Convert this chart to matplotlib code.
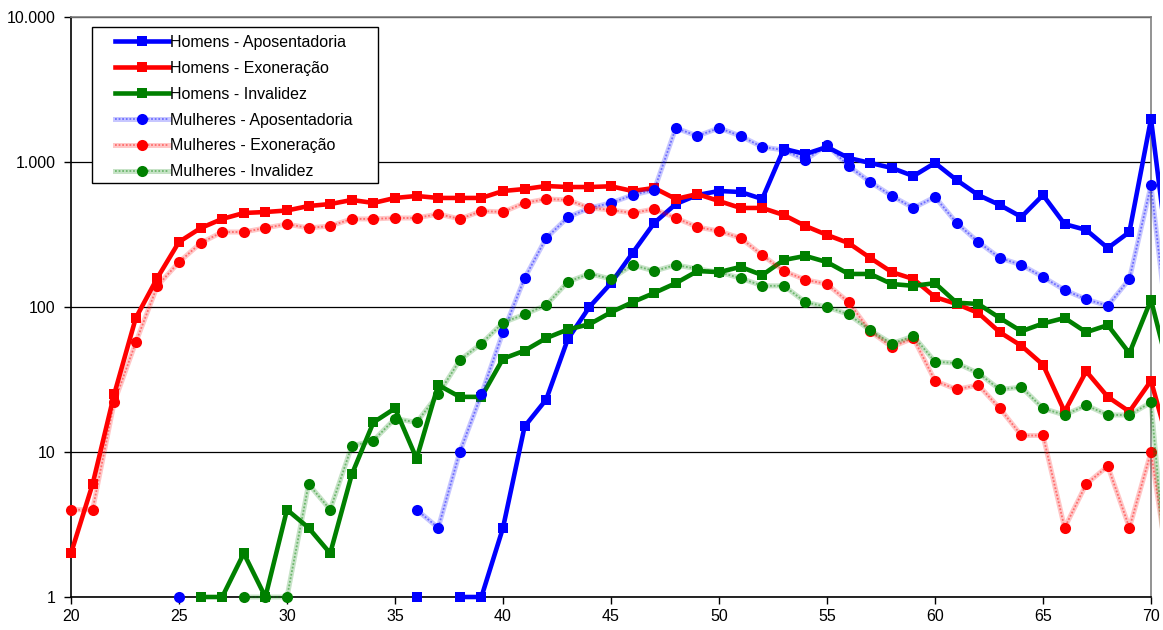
import numpy as np
import matplotlib
matplotlib.use("Agg")
import matplotlib.pyplot as plt
from matplotlib.patches import Rectangle
from matplotlib.ticker import FixedLocator, FuncFormatter, NullLocator
from matplotlib.transforms import Bbox, TransformedBbox

plt.rcParams["font.family"] = ["Liberation Sans", "DejaVu Sans"]

nan = np.nan
ages = list(range(20, 72))

homens_apos = [nan] * 16 + [1, nan, 1, 1, 3, 15, 23, 60, 100, 146, 236, 380, 513, 592, 631, 621,
               556, 1233, 1135, 1269, 1066, 985, 910, 800, 985, 751, 592, 505, 418, 592, 373,
               340, 255, 329, 1980, 126]
homens_exon = [2, 6, 25, 84, 159, 281, 350, 405, 445, 452, 463, 497, 513, 547, 522, 565, 583,
               565, 565, 565, 631, 651, 683, 672, 672, 680, 631, 662, 556, 601, 538, 482, 482,
               431, 362, 314, 276, 218, 174, 156, 117, 105, 91, 67, 54, 40, 19, 36, 24, 19, 31, 9]
homens_inv = [nan] * 6 + [1, 1, 2, 1, 4, 3, 2, 7, 16, 20, 9, 29, 24, 24, 44, 50, 61, 70, 76, 92,
              108, 125, 146, 177, 174, 189, 166, 211, 225, 204, 169, 169, 144, 140, 146, 107,
              105, 84, 68, 77, 84, 67, 75, 48, 112, 29]
mulheres_apos = [nan] * 5 + [1] + [nan] * 10 + [4, 3, 10, 25, 67, 158, 299, 415, 482, 522, 592,
                 641, 1716, 1511, 1716, 1511, 1269, 1210, 1032, 1309, 938, 728, 583, 482, 574,
                 380, 281, 218, 195, 161, 131, 113, 102, 156, 690, 36]
mulheres_exon = [4, 4, 22, 57, 140, 204, 276, 329, 329, 351, 373, 351, 362, 405, 405, 411, 411,
                 438, 405, 459, 452, 522, 556, 548, 482, 467, 445, 474, 411, 356, 334, 299, 228,
                 177, 154, 144, 108, 68, 53, 61, 31, 27, 29, 20, 13, 13, 3, 6, 8, 3, 10, 1]
mulheres_inv = [nan] * 8 + [1, 1, 1, 6, 4, 11, 12, 17, 16, 25, 43, 56, 78, 89, 103, 149, 170,
                156, 195, 177, 195, 183, 174, 158, 140, 140, 108, 100, 89, 69, 56, 63, 42, 41,
                35, 27, 28, 20, 18, 21, 18, 18, 22, 0.5]

homens = [
    ("Homens - Aposentadoria", homens_apos, "#0000ff"),
    ("Homens - Exoneração", homens_exon, "#ff0000"),
    ("Homens - Invalidez", homens_inv, "#008000"),
]
mulheres = [
    ("Mulheres - Aposentadoria", mulheres_apos, "#0000ff"),
    ("Mulheres - Exoneração", mulheres_exon, "#ff0000"),
    ("Mulheres - Invalidez", mulheres_inv, "#008000"),
]

fig = plt.figure(figsize=(11.63, 6.30), dpi=100)
ax = fig.add_axes([71 / 1163, 1 - 597 / 630, 1080 / 1163, 580 / 630])

ax.set_yscale("log")
ax.set_xlim(20, 70)
ax.set_ylim(1, 10000)

# clip a little wider than the plot area, like the original
clip = TransformedBbox(Bbox([[-0.015, -0.03], [1.008, 1.0]]), ax.transAxes)

handles = []
for label, vals, color in homens:
    ln, = ax.plot(ages, vals, color=color, lw=3.3, marker="s", ms=7.5,
                  markeredgewidth=0, zorder=3)
    ln.set_clip_box(clip)
    handles.append((ln,))

for label, vals, color in mulheres:
    band, = ax.plot(ages, vals, color=color, alpha=0.22, lw=3.6, zorder=3)
    dots, = ax.plot(ages, vals, color=color, alpha=0.45, lw=1.3,
                    linestyle=(0, (1, 1)), zorder=3)
    mk, = ax.plot(ages, vals, color=color, lw=0, marker="o", ms=8,
                  markeredgewidth=0, zorder=3)
    for a in (band, dots, mk):
        a.set_clip_box(clip)
    handles.append((band, dots, mk))

labels = [s[0] for s in homens] + [s[0] for s in mulheres]

ax.yaxis.set_major_locator(FixedLocator([1, 10, 100, 1000, 10000]))
ax.yaxis.set_minor_locator(NullLocator())
ax.yaxis.set_major_formatter(FuncFormatter(lambda v, p: f"{int(round(v)):,}".replace(",", ".")))
ax.set_xticks(range(20, 71, 5))
ax.tick_params(axis="both", labelsize=11.5, direction="out", length=5, width=1, colors="black")
ax.tick_params(axis="y", pad=6)

ax.grid(axis="y", color="black", lw=0.9)
ax.set_axisbelow(True)
ax.spines["left"].set_color("black")
ax.spines["bottom"].set_color("black")
ax.spines["top"].set_color("#808080")
ax.spines["right"].set_color("#808080")
for s in ax.spines.values():
    s.set_linewidth(1.2)

# legend box drawn separately so the inner padding can be wider than tall
ax.add_patch(Rectangle((0.0194, 0.7138), 0.2649, 0.2692, transform=ax.transAxes,
                       facecolor="white", edgecolor="black", lw=1.0, zorder=4))
leg = ax.legend(handles, labels, loc="upper left", bbox_to_anchor=(0.0407, 0.969),
                borderaxespad=0, borderpad=0, fontsize=11.5, handlelength=3.4,
                handletextpad=0.05, labelspacing=0.68, frameon=False)
leg.set_zorder(5)

fig.savefig("out.png", dpi=100)
